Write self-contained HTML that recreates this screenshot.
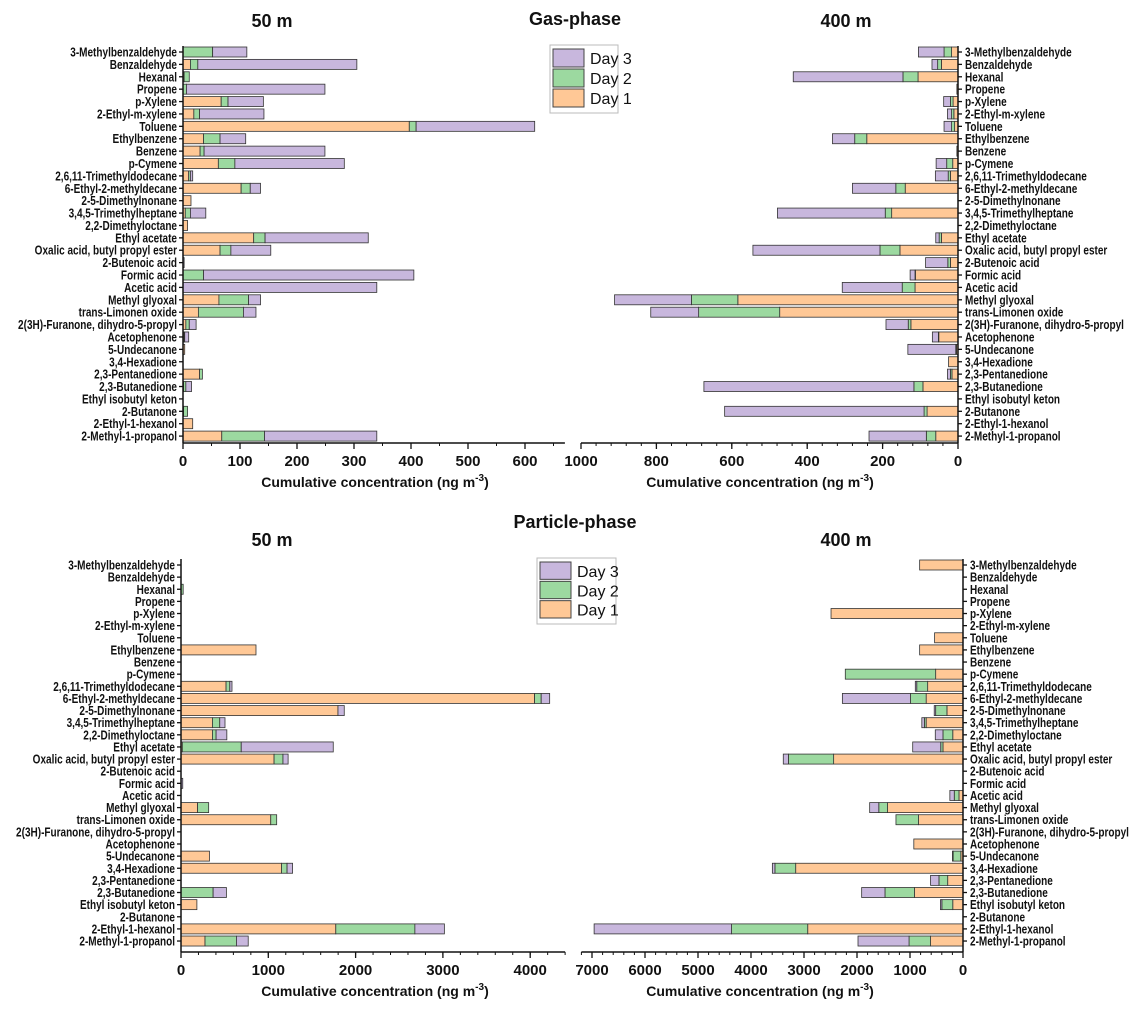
<!DOCTYPE html>
<html><head><meta charset="utf-8">
<style>
body{margin:0;background:#fff;}
svg{display:block;font-family:"Liberation Sans",Arial,sans-serif;}
.cat{font-family:"Liberation Sans",sans-serif;font-weight:bold;font-size:13px;fill:#111;}
.tick{font-weight:bold;font-size:15px;fill:#111;}
.ttl{font-weight:bold;font-size:14px;fill:#111;}
.head{font-weight:bold;font-size:18px;fill:#111;}
</style></head><body>
<svg id="chart" width="1139" height="1012" viewBox="0 0 1139 1012" xmlns="http://www.w3.org/2000/svg">
<text class="head" x="272" y="27" text-anchor="middle">50 m</text>
<text class="head" x="575" y="25" text-anchor="middle">Gas-phase</text>
<text class="head" x="846" y="27" text-anchor="middle">400 m</text>
<text class="head" x="575" y="528" text-anchor="middle">Particle-phase</text>
<text class="head" x="272" y="546" text-anchor="middle">50 m</text>
<text class="head" x="846" y="546" text-anchor="middle">400 m</text>
<g id="plots"></g>
</svg>
<script>
const categories=["3-Methylbenzaldehyde","Benzaldehyde","Hexanal","Propene","p-Xylene","2-Ethyl-m-xylene","Toluene","Ethylbenzene","Benzene","p-Cymene","2,6,11-Trimethyldodecane","6-Ethyl-2-methyldecane","2-5-Dimethylnonane","3,4,5-Trimethylheptane","2,2-Dimethyloctane","Ethyl acetate","Oxalic acid, butyl propyl ester","2-Butenoic acid","Formic acid","Acetic acid","Methyl glyoxal","trans-Limonen oxide","2(3H)-Furanone, dihydro-5-propyl","Acetophenone","5-Undecanone","3,4-Hexadione","2,3-Pentanedione","2,3-Butanedione","Ethyl isobutyl keton","2-Butanone","2-Ethyl-1-hexanol","2-Methyl-1-propanol"];
const seriesNames=["Day 1","Day 2","Day 3"];
// Gas phase 50 m
const gas50Day1=[0,13,2,0,67,19,397,36,30,62,10,102,14,4,8,124,65,0,0,0,63,27,5,2,3,0,29,1,0,1,17,68];
const gas50Day2=[52,13,9,6,12,10,12,29,7,29,3,16,0,9,0,20,19,0,36,0,52,79,6,1,0,0,5,4,0,7,0,75];
const gas50Day3=[60,279,0,243,62,113,208,45,212,192,4,18,0,27,0,181,70,2,369,340,21,22,12,7,0,0,0,10,0,0,0,197];
// Gas phase 400 m
const gas400Day1=[17,44,106,3,13,11,9,242,3,14,20,140,0,176,0,44,154,20,113,114,584,473,125,51,4,25,16,93,0,82,0,59];
const gas400Day2=[20,10,40,0,7,6,8,32,0,16,6,25,0,17,0,6,53,7,1,34,123,215,7,1,2,0,4,24,0,8,0,25];
const gas400Day3=[68,15,291,0,18,11,20,59,0,28,34,115,0,286,0,9,337,59,13,159,204,127,59,16,127,0,8,557,0,529,0,152];
// Particle phase 50 m
const par50Day1=[0,0,0,0,0,0,0,859,0,0,516,4050,1798,360,360,15,1066,0,0,0,190,1028,0,0,326,1151,0,0,182,0,1773,275];
const par50Day2=[0,0,25,0,0,0,0,0,0,0,43,76,0,84,42,675,102,0,0,0,127,68,0,0,0,64,0,368,0,0,906,360];
const par50Day3=[0,0,0,0,0,0,0,0,0,0,25,97,72,60,123,1054,59,0,20,0,0,0,0,0,0,63,0,152,0,0,338,135];
// Particle phase 400 m
const par400Day1=[818,0,0,0,2490,0,536,818,0,516,667,695,303,695,193,378,2441,0,0,76,1424,839,0,928,41,3157,289,915,193,0,2930,612];
const par400Day2=[0,0,0,0,0,0,0,0,0,1705,206,295,213,34,185,42,853,0,0,89,165,426,0,0,145,392,165,557,206,0,1437,406];
const par400Day3=[0,0,0,0,0,0,0,0,0,0,27,1286,27,48,145,529,97,0,0,83,172,0,0,0,13,48,158,440,27,0,2593,963];
const gas50Ticks=[0,100,200,300,400,500,600];
const gas400Ticks=[0,200,400,600,800,1000];
const par50Ticks=[0,1000,2000,3000,4000];
const par400Ticks=[0,1000,2000,3000,4000,5000,6000,7000];

const NS="http://www.w3.org/2000/svg";
const colors=["#ffc896","#9cd9a0","#c8b7dd"];
const root=document.getElementById('plots');
function mk(tag,attrs,parent){const e=document.createElementNS(NS,tag);for(const k in attrs)e.setAttribute(k,attrs[k]);parent.appendChild(e);return e;}

function panel(p){
  const g=mk('g',{},root);
  
  
  const xs=v=>p.x0+p.dir*v*p.k;
  const ys=i=>p.top+i*p.step;
  categories.forEach((c,i)=>{
    let acc=0;
    p.series.forEach((arr,s)=>{
      const v=arr[i];
      if(v>0){
        const a=xs(acc),b=xs(acc+v);
        const r=mk('rect',{x:Math.min(a,b),y:ys(i)-5,width:Math.abs(b-a),height:10,fill:colors[s],stroke:'#333','stroke-width':0.8},g);
        
        
      }
      acc+=v;
    });
    const lx=p.dir>0?p.x0-6:p.x0+7;
    const t=mk('text',{class:'cat',x:0,y:0,transform:'translate('+lx+','+(ys(i)+4.5)+') scale(0.77,1)','text-anchor':p.dir>0?'end':'start'},g);
    t.textContent=c;
    
    
    mk('line',{x1:p.x0,x2:p.x0-p.dir*4,y1:ys(i),y2:ys(i),stroke:'#111','stroke-width':1.3},g);
  });
  const ya=mk('line',{x1:p.x0,x2:p.x0,y1:p.top-6,y2:p.axisY,stroke:'#111','stroke-width':1.5},g);
  
  
  const xa=mk('line',{x1:p.x0,x2:xs(p.max),y1:p.axisY,y2:p.axisY,stroke:'#111','stroke-width':1.5},g);
  
  
  for(let v=0;v<=p.max+1e-6;v+=p.minor){
    mk('line',{x1:xs(v),x2:xs(v),y1:p.axisY,y2:p.axisY+3,stroke:'#111','stroke-width':1},g);
  }
  p.ticks.forEach(v=>{
    mk('line',{x1:xs(v),x2:xs(v),y1:p.axisY,y2:p.axisY+6,stroke:'#111','stroke-width':1.3},g);
    const t=mk('text',{class:'tick',x:xs(v),y:p.axisY+23,'text-anchor':'middle'},g);
    t.textContent=v;
    
    
  });
  const tt=mk('text',{class:'ttl',x:p.titleX,y:p.axisY+44,'text-anchor':'middle'},g);
  tt.innerHTML='Cumulative concentration (ng m<tspan dy="-6" font-size="10">-3</tspan><tspan dy="6">)</tspan>';
  
  
}
panel({name:'gas-50m',x0:183,k:0.57,dir:1,max:670,minor:50,ticks:gas50Ticks,top:52,step:12.39,axisY:443,titleX:375,series:[gas50Day1,gas50Day2,gas50Day3]});
panel({name:'gas-400m',x0:958,k:0.377,dir:-1,max:1000,minor:40,ticks:gas400Ticks,top:52,step:12.39,axisY:443,titleX:760,series:[gas400Day1,gas400Day2,gas400Day3]});
panel({name:'particle-50m',x0:181,k:0.0873,dir:1,max:4400,minor:200,ticks:par50Ticks,top:565,step:12.13,axisY:952,titleX:375,series:[par50Day1,par50Day2,par50Day3]});
panel({name:'particle-400m',x0:963,k:0.053,dir:-1,max:7200,minor:200,ticks:par400Ticks,top:565,step:12.13,axisY:952,titleX:760,series:[par400Day1,par400Day2,par400Day3]});

function legend(x,y,w,h,name){
  const g=mk('g',{},root);
  
  
  mk('rect',{x:x,y:y,width:w,height:h,fill:'#fff',stroke:'#bbb','stroke-width':1},g);
  const order=[2,1,0];
  order.forEach((s,j)=>{
    const yy=y+4+j*(h-8)/3;
    mk('rect',{x:x+3,y:yy,width:31,height:(h-8)/3-2,fill:colors[s],stroke:'#444','stroke-width':1},g);
    const t=mk('text',{x:x+40,y:yy+15,'font-size':'16px',fill:'#111'},g);
    t.textContent=seriesNames[s];
    
    
  });
}
legend(550,45,68,68,'legend-gas');
legend(537,558,79,66,'legend-particle');
</script>
</body></html>
